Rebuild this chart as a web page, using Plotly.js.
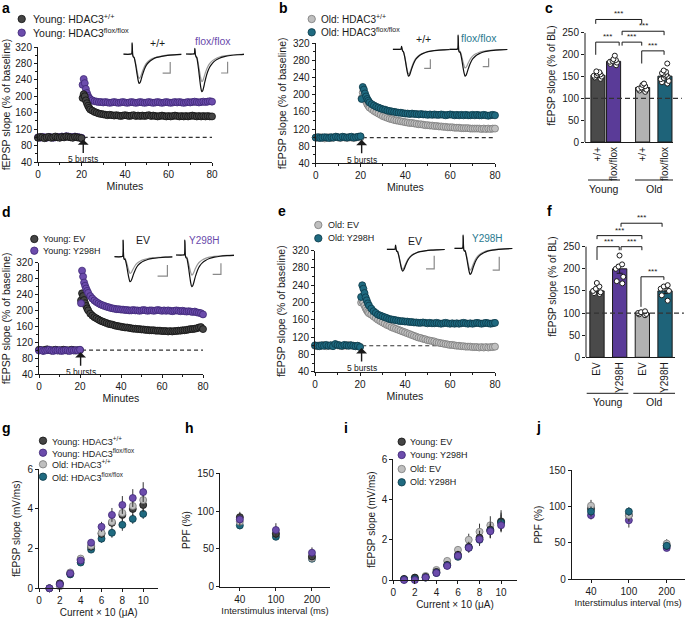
<!DOCTYPE html>
<html><head><meta charset="utf-8">
<script src="https://cdn.plot.ly/plotly-3.0.1.min.js"></script>
<style>html,body{margin:0;padding:0;background:#fff}#chart{width:685px;height:619px}</style>
</head><body><div id="chart"></div>
<script>
// ================= DATA =================
const TIME = [0,1,2,3,4,5,6,7,8,9,10,11,12,13,14,15,16,17,18,19,20,20.5,21,21.5,22,22.5,23,23.5,24,25,26,27,28,29,30,31,32,33,34,35,36,37,38,39,40,41,42,43,44,45,46,47,48,49,50,51,52,53,54,55,56,57,58,59,60,61,62,63,64,65,66,67,68,69,70,71,72,73,74,75,76,77,78,79,80];

// panel a
const A_YOUNG_WT = [99,101,100,98,100,101,99,100,102,100,99,101,100,102,101,100,99,101,100,99,98, 196,205,200,190,183,177,172,168, 165,162,160,158,157,156,155,154,155,154, 153,154,153,152,153,154,153,152,153,154, 152,153,152,153,152,153,154,152,153,152, 151,152,153,152,151,152,151,152,153,152, 151,152,151,152,151,152,153,152,151,152, 151,152,151,152,151,151];
const A_YOUNG_FLOX = [100,99,101,100,99,101,100,99,100,101,100,102,101,103,102,101,100,102,101,100,99, 228,242,232,218,208,201,196,193, 190,188,187,186,186,185,186,185,184,185, 186,185,184,185,186,185,184,185,186,185, 184,185,186,185,184,185,186,185,184,185, 186,185,184,185,186,185,184,185,186,185, 186,185,184,185,186,185,186,187,186,185, 186,187,186,187,188,187];
// panel b
const B_OLD_WT = [100,99,101,100,98,100,101,99,100,102,100,99,101,100,99,101,100,99,100,101,100, 192,205,198,190,184,178,174,170, 166,162,159,156,153,150,148,146,144,143, 141,140,139,138,137,136,135,134,134,133, 132,131,131,130,129,129,128,128,127,127, 126,126,125,125,124,124,124,123,123,123, 122,122,122,122,121,121,121,121,121,120, 121,120,121,120,121,121];
const B_OLD_FLOX = [100,101,99,100,101,100,99,101,100,102,101,100,102,101,100,101,102,100,101,102,103, 190,218,212,203,196,190,186,182, 178,175,172,170,168,166,165,163,162,161, 160,159,158,158,157,156,156,155,156,155, 155,154,155,154,154,153,154,153,154,153, 153,154,153,152,153,154,153,152,153,152, 153,152,153,152,152,153,152,153,152,152, 153,152,151,152,153,152];
// panel d
const D_YOUNG_EV = [101,100,99,101,102,100,99,100,101,100,99,100,101,100,99,100,101,100,99,100,100, 225,243,236,226,218,211,205,200, 192,187,183,180,177,174,172,170,168,166, 165,164,162,161,160,159,158,157,157,156, 155,154,154,153,153,152,152,151,151,150, 150,150,149,149,149,148,148,148,147,148, 147,148,148,149,149,150,150,151,152,153, 153,154,155,157,158,153];
const D_YOUNG_Y298H = [99,100,98,99,100,101,99,98,100,99,100,98,99,100,99,98,100,99,100,99,101, 218,300,285,270,262,255,249,244, 236,230,225,221,218,215,213,211,209,208, 206,205,204,203,203,202,202,201,201,200, 200,201,200,200,199,200,201,200,199,200, 200,199,200,201,200,199,200,199,200,199, 198,199,200,199,198,199,198,197,198,197, 196,197,195,194,193,190];
// panel e
const E_OLD_EV = [100,99,101,100,102,99,100,101,100,103,101,100,99,101,100,102,101,100,99,100,98, 200,205,200,193,187,182,178,175, 172,168,164,160,157,154,151,148,146,143, 141,139,137,135,133,131,129,127,125,123, 121,119,118,116,115,113,112,111,110,108, 107,106,105,104,103,102,102,101,100,100, 99,99,98,98,98,97,97,97,96,97, 96,97,96,97,97,98];
const E_OLD_Y298H = [101,100,99,101,100,102,100,101,99,104,102,101,100,102,101,100,101,100,99,100,97, 213,240,232,222,212,205,198,193, 186,180,176,172,170,168,166,164,162,161, 160,159,158,157,157,156,156,155,155,154, 154,153,153,154,153,152,153,152,152,153, 152,151,152,153,152,151,152,151,152,151, 152,153,152,151,152,151,152,153,152,151, 152,153,152,151,152,153];

// panel c (bars)
const C_LABELS = ['+/+','flox/flox','+/+','flox/flox'];
const C_MEANS = [153,185,125,151];
const C_SEM = [3,3,3,4];
const C_DOTS = [[145,148,150,152,153,155,157,160,162],[176,179,182,184,186,188,190,198],[115,118,120,122,125,128,131,134],[134,137,140,144,147,150,152,154,156,158,161,164,180]];
// panel f (bars)
const F_LABELS = ['EV','Y298H','EV','Y298H'];
const F_MEANS = [150,200,100,150];
const F_SEM = [5,10,2,6];
const F_DOTS = [[143,145,147,150,155,160,168],[167,172,182,200,205,210,230],[95,97,98,100,102,104],[128,140,150,155,160,163]];
const GROUPS = ['Young','Old'];

// panels g, i (input-output)
const CURRENT = [1,2,3,4,5,6,7,8,9,10];
const G_YOUNG_WT = [0.0,0.25,0.75,1.45,2.1,2.75,3.3,3.7,4.0,4.2];
const G_YOUNG_FLOX = [0.0,0.2,0.75,1.4,2.3,3.1,3.7,4.2,4.55,4.85];
const G_OLD_WT = [0.0,0.1,0.8,1.5,2.15,2.8,3.35,3.8,4.15,4.45];
const G_OLD_FLOX = [0.0,0.2,0.7,1.3,1.95,2.5,2.8,3.2,3.5,3.75];
const G_YOUNG_WT_ERR = [0.02,0.05,0.05,0.1,0.15,0.2,0.25,0.3,0.35,0.35];
const G_YOUNG_FLOX_ERR = [0.02,0.05,0.05,0.1,0.15,0.25,0.35,0.45,0.45,0.5];
const G_OLD_WT_ERR = [0.02,0.05,0.05,0.1,0.15,0.2,0.25,0.3,0.3,0.3];
const G_OLD_FLOX_ERR = [0.02,0.05,0.05,0.1,0.12,0.2,0.25,0.3,0.25,0.25];
const I_YOUNG_EV = [0.05,0.12,0.15,0.4,0.75,1.25,1.65,2.1,2.5,2.9];
const I_YOUNG_Y298H = [0.0,0.0,0.12,0.35,0.7,1.2,1.6,2.02,2.42,2.72];
const I_OLD_EV = [0.05,0.1,0.2,0.5,0.95,1.5,2.0,2.4,2.72,2.92];
const I_OLD_Y298H = [0.02,0.05,0.12,0.35,0.72,1.15,1.6,2.0,2.45,2.85];
const I_YOUNG_EV_ERR = [0.05,0.05,0.05,0.1,0.1,0.2,0.25,0.35,0.4,0.45];
const I_YOUNG_Y298H_ERR = [0.03,0.03,0.05,0.1,0.1,0.15,0.25,0.3,0.35,0.3];
const I_OLD_EV_ERR = [0.05,0.05,0.05,0.1,0.1,0.15,0.3,0.4,0.45,0.55];
const I_OLD_Y298H_ERR = [0.03,0.05,0.05,0.1,0.1,0.15,0.2,0.3,0.35,0.4];

// panels h, j (paired-pulse facilitation)
const ISI = ['40','100','200'];
const H_YOUNG_WT = [92,70,40], H_YOUNG_FLOX = [89,75,45], H_OLD_WT = [86,70,38], H_OLD_FLOX = [81,66,37];
const H_YOUNG_WT_ERR = [7,6,5], H_YOUNG_FLOX_ERR = [8,9,7], H_OLD_WT_ERR = [6,5,4], H_OLD_FLOX_ERR = [5,4,4];
const J_YOUNG_EV = [97,88,46], J_YOUNG_Y298H = [88,81,43], J_OLD_EV = [101,88,49], J_OLD_Y298H = [93,93,46];
const J_YOUNG_EV_ERR = [8,7,5], J_YOUNG_Y298H_ERR = [6,10,4], J_OLD_EV_ERR = [8,9,6], J_OLD_Y298H_ERR = [7,6,5];

// example fEPSP traces (insets): baseline (grey) and post-LTP (black)
const INSET_T = [0,7,8.5,9,9.6,10.3,11,12,13,14,15,16,17,18,19,20,22,24,27,30,34,39,45,52,59];
const INSET_A_WT_LTP = [0,0,0.05,1.2,-0.1,-0.3,-0.35,-0.8,-1.4,-2.1,-2.7,-3.08,-3.0,-2.72,-2.35,-2.0,-1.45,-1.08,-0.74,-0.52,-0.34,-0.22,-0.12,-0.06,-0.02];
const INSET_A_WT_BASE = [0,0,0.05,1.1,-0.1,-0.28,-0.3,-0.68,-1.17,-1.75,-2.25,-2.55,-2.48,-2.25,-1.95,-1.66,-1.2,-0.9,-0.62,-0.44,-0.29,-0.19,-0.1,-0.05,-0.02];
const INSET_A_FLOX_LTP = [0,0,0.05,0.6,-0.1,-0.3,-0.4,-1.0,-1.8,-2.7,-3.5,-3.97,-3.87,-3.5,-3.02,-2.58,-1.87,-1.39,-0.95,-0.67,-0.44,-0.28,-0.16,-0.08,-0.03];
const INSET_A_FLOX_BASE = [0,0,0.05,0.55,-0.1,-0.28,-0.32,-0.75,-1.32,-1.97,-2.55,-2.9,-2.83,-2.55,-2.2,-1.88,-1.36,-1.02,-0.7,-0.49,-0.32,-0.2,-0.12,-0.06,-0.02];
const INSET_B_WT_LTP = [0,0,0.02,0.3,0,-0.2,-0.28,-0.7,-1.27,-1.92,-2.48,-2.82,-2.74,-2.48,-2.14,-1.83,-1.33,-0.99,-0.68,-0.48,-0.31,-0.2,-0.11,-0.06,-0.02];
const INSET_B_WT_BASE = [0,0,0.02,0.28,0,-0.18,-0.26,-0.65,-1.17,-1.77,-2.29,-2.6,-2.52,-2.29,-1.98,-1.69,-1.22,-0.91,-0.62,-0.44,-0.29,-0.18,-0.1,-0.05,-0.02];
const INSET_B_FLOX_LTP = [0,0,0.05,1.5,-0.1,-0.3,-0.3,-0.7,-1.27,-1.92,-2.48,-2.82,-2.74,-2.48,-2.14,-1.83,-1.33,-0.99,-0.68,-0.48,-0.31,-0.2,-0.11,-0.06,-0.02];
const INSET_B_FLOX_BASE = [0,0,0.05,1.4,-0.1,-0.25,-0.22,-0.49,-0.89,-1.34,-1.73,-1.97,-1.91,-1.73,-1.5,-1.28,-0.93,-0.69,-0.47,-0.33,-0.22,-0.14,-0.08,-0.04,-0.02];
const INSET_D_EV_LTP = [0,0,0.05,1.76,-0.1,-0.3,-0.26,-0.66,-1.19,-1.8,-2.32,-2.64,-2.56,-2.32,-2.01,-1.72,-1.24,-0.92,-0.63,-0.45,-0.29,-0.18,-0.11,-0.05,-0.02];
const INSET_D_EV_BASE = [0,0,0.05,1.7,-0.1,-0.25,-0.18,-0.44,-0.79,-1.19,-1.54,-1.75,-1.7,-1.54,-1.33,-1.14,-0.82,-0.61,-0.42,-0.3,-0.19,-0.12,-0.07,-0.04,-0.02];
const INSET_D_Y298H_LTP = [0,0,0.05,1.58,-0.1,-0.3,-0.33,-0.84,-1.5,-2.27,-2.94,-3.34,-3.24,-2.94,-2.54,-2.17,-1.57,-1.17,-0.8,-0.57,-0.37,-0.23,-0.13,-0.07,-0.03];
const INSET_D_Y298H_BASE = [0,0,0.05,1.5,-0.1,-0.25,-0.21,-0.53,-0.95,-1.43,-1.86,-2.11,-2.05,-1.86,-1.6,-1.37,-0.99,-0.74,-0.51,-0.36,-0.23,-0.15,-0.08,-0.04,-0.02];
const INSET_E_EV_LTP = [0,0,0.02,0.45,0,-0.2,-0.23,-0.57,-1.03,-1.56,-2.02,-2.29,-2.22,-2.02,-1.74,-1.49,-1.08,-0.8,-0.55,-0.39,-0.25,-0.16,-0.09,-0.05,-0.02];
const INSET_E_EV_BASE = [0,0,0.02,0.4,0,-0.2,-0.21,-0.53,-0.95,-1.43,-1.85,-2.1,-2.04,-1.85,-1.6,-1.37,-0.99,-0.74,-0.5,-0.36,-0.23,-0.15,-0.08,-0.04,-0.02];
const INSET_E_Y298H_LTP = [0,0,0.05,1.4,-0.1,-0.3,-0.27,-0.69,-1.23,-1.86,-2.41,-2.74,-2.66,-2.41,-2.08,-1.78,-1.29,-0.96,-0.66,-0.47,-0.3,-0.19,-0.11,-0.05,-0.02];
const INSET_E_Y298H_BASE = [0,0,0.05,1.3,-0.1,-0.25,-0.23,-0.57,-1.03,-1.56,-2.02,-2.29,-2.22,-2.02,-1.74,-1.49,-1.08,-0.8,-0.55,-0.39,-0.25,-0.16,-0.09,-0.05,-0.02];

// legend labels
const LEG_A = ['Young: HDAC3<sup>+/+</sup>','Young: HDAC3<sup>flox/flox</sup>'];
const LEG_B = ['Old: HDAC3<sup>+/+</sup>','Old: HDAC3<sup>flox/flox</sup>'];
const LEG_D = ['Young: EV','Young: Y298H'];
const LEG_E = ['Old: EV','Old: Y298H'];
const LEG_G = ['Young: HDAC3<sup>+/+</sup>','Young: HDAC3<sup>flox/flox</sup>','Old: HDAC3<sup>+/+</sup>','Old: HDAC3<sup>flox/flox</sup>'];
const LEG_I = ['Young: EV','Young: Y298H','Old: EV','Old: Y298H'];

// ================= STYLE / LAYOUT =================
const F = 'Liberation Sans, Arial, Helvetica, sans-serif';
const W = 685, H = 619;
const INK = '#1a1a1a';
const domX = (l, r) => [l / W, r / W];
const domY = (t, b) => [1 - b / H, 1 - t / H];
const fx = p => p / W, fy = p => 1 - p / H;
const sid = n => (n === 1 ? '' : String(n));

const COL = {
  dark:   {fill:'#454545', line:'#111111', bar:'#4a4a4a'},
  purple: {fill:'#6c4cac', line:'#3d2775', bar:'#5a3b98'},
  light:  {fill:'#bfbfbf', line:'#7a7a7a', bar:'#b2b2b2'},
  teal:   {fill:'#1f6a80', line:'#0b3947', bar:'#1e6379'}
};

const traces = [], shapes = [], annotations = [];
const layout = {
  width: W, height: H, margin: {l:0, r:0, t:0, b:0, pad:0},
  paper_bgcolor: '#fff', plot_bgcolor: 'rgba(0,0,0,0)', showlegend: false,
  font: {family: F, color: INK, size: 10}, shapes, annotations
};
const minorT = {ticks:'outside', ticklen:2, tickwidth:1, tickcolor:INK};
const axBase = {showline:true, linecolor:INK, linewidth:1, ticks:'outside', ticklen:3, tickwidth:1, tickcolor:INK,
  showgrid:false, zeroline:false, tickfont:{family:F, size:10, color:INK}, fixedrange:true, autorange:false};
const titleFont = {family:F, size:10.5, color:INK};

function timePanel(n, xd, yd, series, arrowX) {
  const xa = 'x' + sid(n), ya = 'y' + sid(n);
  series.forEach(s => traces.push({type:'scatter', mode:'markers', x:TIME, y:s.y, xaxis:xa, yaxis:ya,
    cliponaxis:false, hoverinfo:'skip', marker:{size:7, color:s.c.fill, line:{color:s.c.line, width:0.8}}}));
  layout['xaxis' + sid(n)] = Object.assign({}, axBase, {domain:xd, anchor:ya, range:[0,80], tickmode:'linear', tick0:0, dtick:20,
    minor:Object.assign({dtick:10}, minorT), title:{text:'Minutes', font:titleFont, standoff:3}});
  layout['yaxis' + sid(n)] = Object.assign({}, axBase, {domain:yd, anchor:xa, range:[40,320], tickmode:'linear', tick0:40, dtick:40,
    minor:Object.assign({dtick:20}, minorT), title:{text:'fEPSP slope (% of baseline)', font:titleFont, standoff:4}});
  shapes.push({type:'line', xref:xa, yref:ya, x0:21, x1:80, y0:100, y1:100, layer:'below', line:{color:'#333', width:1.2, dash:'4px,3px'}});
  annotations.push({xref:xa, yref:ya, x:arrowX, y:95, ax:0, ay:20, text:'5 bursts', showarrow:true, arrowhead:1, arrowsize:1.3,
    arrowwidth:1.4, arrowcolor:INK, font:{family:F, size:8.5, color:INK}});
}

function barPanel(n, xd, yd, yTop, pos, xr, labels, means, sem, colors, dots, brackets, groupY, groupLines) {
  const xa = 'x' + sid(n), ya = 'y' + sid(n);
  traces.push({type:'bar', x:pos, y:means, width:pos.map(() => 0.63), xaxis:xa, yaxis:ya, hoverinfo:'skip',
    marker:{color:colors, line:{color:INK, width:1}},
    error_y:{type:'data', array:sem, color:INK, thickness:1, width:3}});
  dots.forEach((d, i) => traces.push({type:'box', x0:pos[i], y:d, width:0.5, boxpoints:'all', jitter:0.9, pointpos:0,
    fillcolor:'rgba(0,0,0,0)', line:{color:'rgba(0,0,0,0)', width:0}, whiskerwidth:0, xaxis:xa, yaxis:ya, hoverinfo:'skip',
    marker:{color:'#fff', size:5, line:{color:INK, width:1}}}));
  layout['xaxis' + sid(n)] = Object.assign({}, axBase, {type:'linear', domain:xd, anchor:ya, range:xr, tickmode:'array',
    tickvals:pos, ticktext:labels, tickangle:-90, ticks:'', tickfont:{family:F, size:10, color:INK}});
  layout['yaxis' + sid(n)] = Object.assign({}, axBase, {domain:yd, anchor:xa, range:[0,yTop], showline:false, tickmode:'array',
    tickvals:[0,50,100,150,200,250], title:{text:'fEPSP slope (% of BL)', font:{family:F, size:10, color:INK}, standoff:4}});
  shapes.push({type:'line', xref:xa + ' domain', yref:ya, x0:0, x1:0, y0:0, y1:250, line:{color:INK, width:1}});
  shapes.push({type:'line', xref:xa + ' domain', yref:ya, x0:0, x1:1.1, y0:100, y1:100, layer:'above', line:{color:'#333', width:1.2, dash:'5px,3px'}});
  brackets.forEach(b => {
    const [x0, x1, h, l0, l1] = b;
    shapes.push({type:'path', xref:xa, yref:ya, path:`M${x0},${l0} L${x0},${h} L${x1},${h} L${x1},${l1}`, line:{color:INK, width:1}});
    annotations.push({xref:xa, yref:ya, x:(x0 + x1) / 2, y:h, xanchor:'center', yanchor:'bottom', yshift:-1, text:'***', showarrow:false,
      font:{family:F, size:8, color:INK}});
  });
  groupLines.forEach((g, i) => {
    shapes.push({type:'line', xref:'paper', yref:'paper', x0:fx(g[0]), x1:fx(g[1]), y0:fy(groupY), y1:fy(groupY), line:{color:INK, width:1}});
    label(GROUPS[i], (g[0] + g[1]) / 2, groupY + 9, INK, 10.5);
  });
}

function ioPanel(n, xd, yd, xcfg, ycfg, series) {
  const xa = 'x' + sid(n), ya = 'y' + sid(n);
  series.forEach(s => traces.push({type:'scatter', mode:'markers', x:s.x, y:s.y, xaxis:xa, yaxis:ya, cliponaxis:false, hoverinfo:'skip',
    marker:{size:7, color:s.c.fill, line:{color:s.c.line, width:0.8}},
    error_y:{type:'data', array:s.e, color:'#333', thickness:1, width:0}}));
  layout['xaxis' + sid(n)] = Object.assign({}, axBase, {domain:xd, anchor:ya}, xcfg);
  layout['yaxis' + sid(n)] = Object.assign({}, axBase, {domain:yd, anchor:xa}, ycfg);
}

function legend(labels, colors, cx, ys, tx, size) {
  labels.forEach((t, i) => {
    const c = colors[i];
    shapes.push({type:'circle', xref:'paper', yref:'paper', xsizemode:'pixel', ysizemode:'pixel',
      xanchor:fx(cx), yanchor:fy(ys[i]), x0:-3.7, x1:3.7, y0:-3.7, y1:3.7, fillcolor:c.fill, line:{color:c.line, width:0.8}});
    annotations.push({xref:'paper', yref:'paper', x:fx(tx), y:fy(ys[i]), xanchor:'left', yanchor:'middle', text:t, showarrow:false,
      font:{family:F, size:size, color:INK}});
  });
}

function inset(n, left, base, grey, black, sb) {
  const xa = 'x' + n, ya = 'y' + n;
  layout['xaxis' + n] = {domain:domX(left, left + 59), range:[0,60], visible:false, anchor:ya, fixedrange:true};
  layout['yaxis' + n] = {domain:domY(base - 23.7, base + 42.7), range:[-4.5,2.5], visible:false, anchor:xa, fixedrange:true};
  traces.push({type:'scatter', mode:'lines', x:INSET_T, y:grey, xaxis:xa, yaxis:ya, hoverinfo:'skip', line:{color:'#9a9a9a', width:1.2, shape:'spline', smoothing:0.7}});
  traces.push({type:'scatter', mode:'lines', x:INSET_T, y:black, xaxis:xa, yaxis:ya, hoverinfo:'skip', line:{color:'#111', width:1.2, shape:'spline', smoothing:0.7}});
  shapes.push({type:'path', xref:xa, yref:ya, path:`M${sb[0]},${sb[2]} L${sb[1]},${sb[2]} L${sb[1]},${sb[3]}`, line:{color:'#8a8a8a', width:1.2}});
}

function label(text, x, y, color, size) {
  annotations.push({xref:'paper', yref:'paper', x:fx(x), y:fy(y), xanchor:'center', yanchor:'middle', text:text, showarrow:false,
    font:{family:F, size:size, color:color}});
}

// ---- time-course panels a, b, d, e ----
timePanel(1, domX(38,212), domY(47,162), [{y:A_YOUNG_FLOX, c:COL.purple}, {y:A_YOUNG_WT, c:COL.dark}], 20.8);
timePanel(2, domX(315.7,495), domY(43.3,163.3), [{y:B_OLD_WT, c:COL.light}, {y:B_OLD_FLOX, c:COL.teal}], 20.5);
timePanel(4, domX(39,203), domY(262.7,374), [{y:D_YOUNG_EV, c:COL.dark}, {y:D_YOUNG_Y298H, c:COL.purple}], 20.3);
timePanel(5, domX(315,495), domY(250.7,371.7), [{y:E_OLD_EV, c:COL.light}, {y:E_OLD_Y298H, c:COL.teal}], 20.7);

// ---- bar panels c, f ----
const barCols = [COL.dark.bar, COL.purple.bar, COL.light.bar, COL.teal.bar];
barPanel(3, domX(585,673), domY(9,142), 305, [0,0.7,2,3], [-0.58,3.36], C_LABELS, C_MEANS, C_SEM, barCols, C_DOTS,
  [[-0.1,1.96,281,271,271],[1.08,2.96,254,245,245],[-0.1,0.95,229,200,221],[1.08,1.96,229,221,221],[1.96,2.96,209,180,200]],
  180, [[588,620],[635,673]]);
barPanel(6, domX(586,675), domY(215.7,357.3), 320, [0,1,2,3], [-0.485,3.44], F_LABELS, F_MEANS, F_SEM, barCols, F_DOTS,
  [[1.06,2.87,303,295,295],[0,1.98,275,267,267],[0,0.98,250,220,242],[1.06,1.98,250,242,242],[1.94,2.95,182,114,175]],
  393.3, [[586.7,628.3],[633.3,675]]);

// ---- input/output and PPF panels g, h, i, j ----
const ioX = {range:[0,11.45], tickmode:'array', tickvals:[0,2,4,6,8,10], title:{text:'Current × 10 (μA)', font:{family:F, size:10, color:INK}, standoff:3}};
const ioY = {range:[0,6], tickmode:'array', tickvals:[0,2,4,6], title:{text:'fEPSP slope (mV/ms)', font:{family:F, size:10, color:INK}, standoff:4}};
const ppfX = {type:'category', categoryarray:ISI, range:[-0.55,2.5], title:{text:'Interstimulus interval (ms)', font:{family:F, size:9.4, color:INK}, standoff:3}};
const ppfY = {range:[0,150], tickmode:'array', tickvals:[0,50,100,150], title:{text:'PPF (%)', font:{family:F, size:10, color:INK}, standoff:4}};
ioPanel(7, domX(39,158.3), domY(469.3,588.3), ioX, ioY, [
  {x:CURRENT, y:G_OLD_FLOX, e:G_OLD_FLOX_ERR, c:COL.teal},
  {x:CURRENT, y:G_YOUNG_WT, e:G_YOUNG_WT_ERR, c:COL.dark},
  {x:CURRENT, y:G_OLD_WT, e:G_OLD_WT_ERR, c:COL.light},
  {x:CURRENT, y:G_YOUNG_FLOX, e:G_YOUNG_FLOX_ERR, c:COL.purple}]);
ioPanel(8, domX(220,330), domY(473.3,586.7), ppfX, ppfY, [
  {x:ISI, y:H_OLD_FLOX, e:H_OLD_FLOX_ERR, c:COL.teal},
  {x:ISI, y:H_OLD_WT, e:H_OLD_WT_ERR, c:COL.light},
  {x:ISI, y:H_YOUNG_WT, e:H_YOUNG_WT_ERR, c:COL.dark},
  {x:ISI, y:H_YOUNG_FLOX, e:H_YOUNG_FLOX_ERR, c:COL.purple}]);
ioPanel(9, domX(393.3,516.7), domY(459.3,580), Object.assign({}, ioX), Object.assign({}, ioY), [
  {x:CURRENT, y:I_OLD_EV, e:I_OLD_EV_ERR, c:COL.light},
  {x:CURRENT, y:I_YOUNG_EV, e:I_YOUNG_EV_ERR, c:COL.dark},
  {x:CURRENT, y:I_OLD_Y298H, e:I_OLD_Y298H_ERR, c:COL.teal},
  {x:CURRENT, y:I_YOUNG_Y298H, e:I_YOUNG_Y298H_ERR, c:COL.purple}]);
ioPanel(10, domX(571.7,684.5), domY(470,579.3), Object.assign({}, ppfX, {range:[-0.51,2.47]}), Object.assign({}, ppfY), [
  {x:ISI, y:J_YOUNG_Y298H, e:J_YOUNG_Y298H_ERR, c:COL.purple},
  {x:ISI, y:J_YOUNG_EV, e:J_YOUNG_EV_ERR, c:COL.dark},
  {x:ISI, y:J_OLD_EV, e:J_OLD_EV_ERR, c:COL.light},
  {x:ISI, y:J_OLD_Y298H, e:J_OLD_Y298H_ERR, c:COL.teal}]);

// ---- insets (example traces) ----
inset(11, 123.3, 54.2, INSET_A_WT_BASE, INSET_A_WT_LTP, [40,47.7,-2.0,-0.82]);
inset(12, 186, 54, INSET_A_FLOX_BASE, INSET_A_FLOX_LTP, [35.7,42.3,-2.0,-0.82]);
inset(13, 392.7, 49.3, INSET_B_WT_BASE, INSET_B_WT_LTP, [32,38.3,-2.0,-1.05]);
inset(14, 449.3, 49.3, INSET_B_FLOX_BASE, INSET_B_FLOX_LTP, [34,40,-1.83,-0.95]);
inset(15, 114.3, 256.7, INSET_D_EV_BASE, INSET_D_EV_LTP, [44,54,-2.04,-0.88]);
inset(16, 176, 255, INSET_D_Y298H_BASE, INSET_D_Y298H_LTP, [37.3,45.7,-2.04,-0.88]);
inset(17, 386.7, 249.3, INSET_E_EV_BASE, INSET_E_EV_LTP, [40,48.3,-2.07,-0.67]);
inset(18, 454.3, 248.3, INSET_E_Y298H_BASE, INSET_E_Y298H_LTP, [39,45.7,-2.3,-0.89]);

label('+/+', 157, 43, INK, 10.5);
label('flox/flox', 213, 41, '#6a4aab', 10.5);
label('+/+', 423, 39.5, INK, 10.5);
label('flox/flox', 479, 38, '#2a7a90', 10.5);
label('EV', 143, 240, INK, 10.5);
label('Y298H', 204, 240, '#6a4aab', 10);
label('EV', 415, 241, INK, 10.5);
label('Y298H', 487, 238, '#2a7a90', 10);

// ---- legends ----
legend(LEG_A, [COL.dark, COL.purple], 21.7, [19, 32.7], 30.5, 10.5);
legend(LEG_B, [COL.light, COL.teal], 311.7, [19, 32.3], 319, 10);
legend(LEG_D, [COL.dark, COL.purple], 34.3, [239, 250.7], 40.5, 9);
legend(LEG_E, [COL.light, COL.teal], 318.3, [225, 238.3], 326, 9);
legend(LEG_G, [COL.dark, COL.purple, COL.light, COL.teal], 43, [440.7, 452.7, 464.3, 476.7], 49.5, 9);
legend(LEG_I, [COL.dark, COL.purple, COL.light, COL.teal], 401.7, [441.7, 455, 469, 482.3], 408, 9);

// ---- panel letters ----
[['a',6,8],['b',283,8],['c',549,8],['d',6,212],['e',282,211],['f',549,211],['g',6,428],['h',189,428],['i',346,428],['j',538,427]]
  .forEach(l => label('<b>' + l[0] + '</b>', l[1], l[2], '#000', 14));

Plotly.newPlot('chart', traces, layout, {staticPlot:true, displayModeBar:false});
</script>
</body></html>
